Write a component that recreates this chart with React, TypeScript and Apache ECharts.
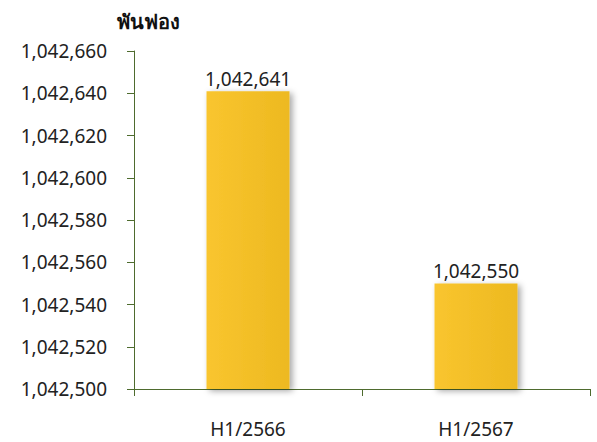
import React, { useEffect, useRef } from "react";
import * as echarts from "echarts";

const categories = ["H1/2566", "H1/2567"];
const values = [1042641, 1042550];
const yMin = 1042500;
const yMax = 1042660;
const yInterval = 20;
const unitTitle = "พันฟอง";

const fmt = (v: number) => v.toLocaleString("en-US");

export default function App() {
  const ref = useRef<HTMLDivElement>(null);
  useEffect(() => {
    if (!ref.current) return;
    const chart = echarts.init(ref.current, undefined, { renderer: "svg" });
    const font = "'Noto Sans', 'DejaVu Sans', sans-serif";
    chart.setOption({
      animation: false,
      title: {
        text: unitTitle,
        left: 143,
        top: 6,
        textAlign: "center",
        textStyle: { fontSize: 20, fontWeight: "bold", color: "#111", fontFamily: font },
      },
      grid: { left: 134, right: 7, top: 51, bottom: 53, containLabel: false },
      xAxis: {
        type: "category",
        data: categories,
        axisLine: { show: true, lineStyle: { color: "#4e6b2e", width: 1 } },
        axisTick: { show: true, length: 7, alignWithLabel: false, lineStyle: { color: "#4e6b2e" } },
        axisLabel: { color: "#222", fontSize: 19, margin: 30, fontFamily: font },
        splitLine: { show: false },
      },
      yAxis: {
        type: "value",
        min: yMin,
        max: yMax,
        interval: yInterval,
        axisLine: { show: true, lineStyle: { color: "#4e6b2e", width: 1 } },
        axisTick: { show: true, length: 7, lineStyle: { color: "#4e6b2e" } },
        axisLabel: { color: "#222", fontSize: 19, margin: 27, formatter: (v: number) => fmt(v), fontFamily: font },
        splitLine: { show: false },
      },
      series: [
        {
          type: "bar",
          data: values,
          barWidth: 83,
          itemStyle: {
            color: new echarts.graphic.LinearGradient(0, 0, 1, 0, [
              { offset: 0, color: "#f9c52f" },
              { offset: 1, color: "#edb920" },
            ]),
            shadowColor: "rgba(0,0,0,0.35)",
            shadowBlur: 6,
            shadowOffsetX: 3,
            shadowOffsetY: 2,
          },
          label: {
            show: true,
            position: "top",
            distance: 3,
            color: "#222",
            fontSize: 19,
            fontFamily: font,
            formatter: (p: any) => fmt(p.value),
          },
        },
      ],
    });
    return () => chart.dispose();
  }, []);
  return <div ref={ref} style={{ width: 597, height: 442, position: "absolute", left: 0, top: 0 }} />;
}
